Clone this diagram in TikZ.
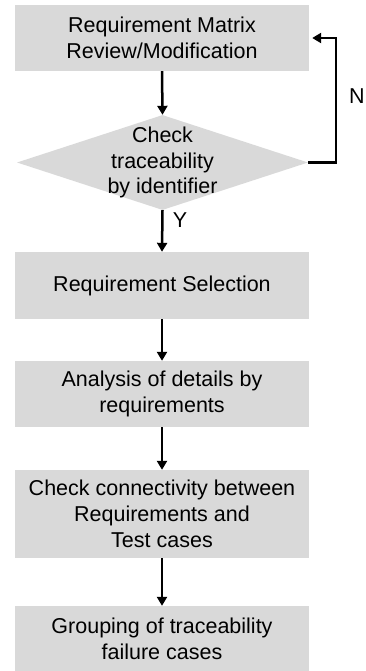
\documentclass[tikz,border=0pt]{standalone}
\usepackage{fontspec}
\setmainfont{Liberation Sans}
\usetikzlibrary{shapes.geometric,arrows.meta}
\definecolor{boxgray}{RGB}{217,217,217}
\begin{document}
\begin{tikzpicture}[x=1pt,y=-1pt,
  stepbox/.style={fill=boxgray, inner sep=0pt, minimum width=294pt, align=center,
    font=\fontsize{21.5}{26}\selectfont},
  decision/.style={diamond, fill=boxgray, inner sep=0pt, minimum width=291pt, minimum height=95pt},
  dectext/.style={align=center, inner sep=0pt, font=\fontsize{21.5}{25.5}\selectfont},
  flow/.style={line width=2.5pt, -{Triangle[length=9pt,width=10pt]}},
  lbl/.style={inner sep=0pt, font=\fontsize{21.5}{26}\selectfont}]
\useasboundingbox (0,0) rectangle (365,671);
\node[stepbox, minimum height=66pt] (b1) at (162,38) {Requirement Matrix\\Review/Modification};
\node[decision] (d) at (162.5,162.5) {};
\node[dectext] (dt) at (162.5,162.5) {Check\\traceability\\by identifier};
\node[stepbox, minimum height=67pt] (b3) at (162,285.5) {Requirement Selection};
\node[stepbox, minimum height=66pt] (b4) at (162,394) {Analysis of details by\\requirements};
\node[stepbox, minimum height=88pt] (b5) at (162,514) {Check connectivity between\\Requirements and\\Test cases};
\node[stepbox, minimum height=66pt] (b6) at (162,639) {Grouping of traceability\\failure cases};
\draw[flow] (b1.south) -- (d.north);
\draw[flow] (d.south) -- (b3.north);
\draw[flow] (b3.south) -- (b4.north);
\draw[flow] (b4.south) -- (b5.north);
\draw[flow] (b5.south) -- (b6.north);
\coordinate (nc) at (336,38);
\draw[flow] (d.east) -| (nc) -- ([xshift=3pt]b1.east |- nc);
\node[lbl] (y) at (180,220) {Y};
\node[lbl] (n) at (357,96) {N};
\end{tikzpicture}
\end{document}
